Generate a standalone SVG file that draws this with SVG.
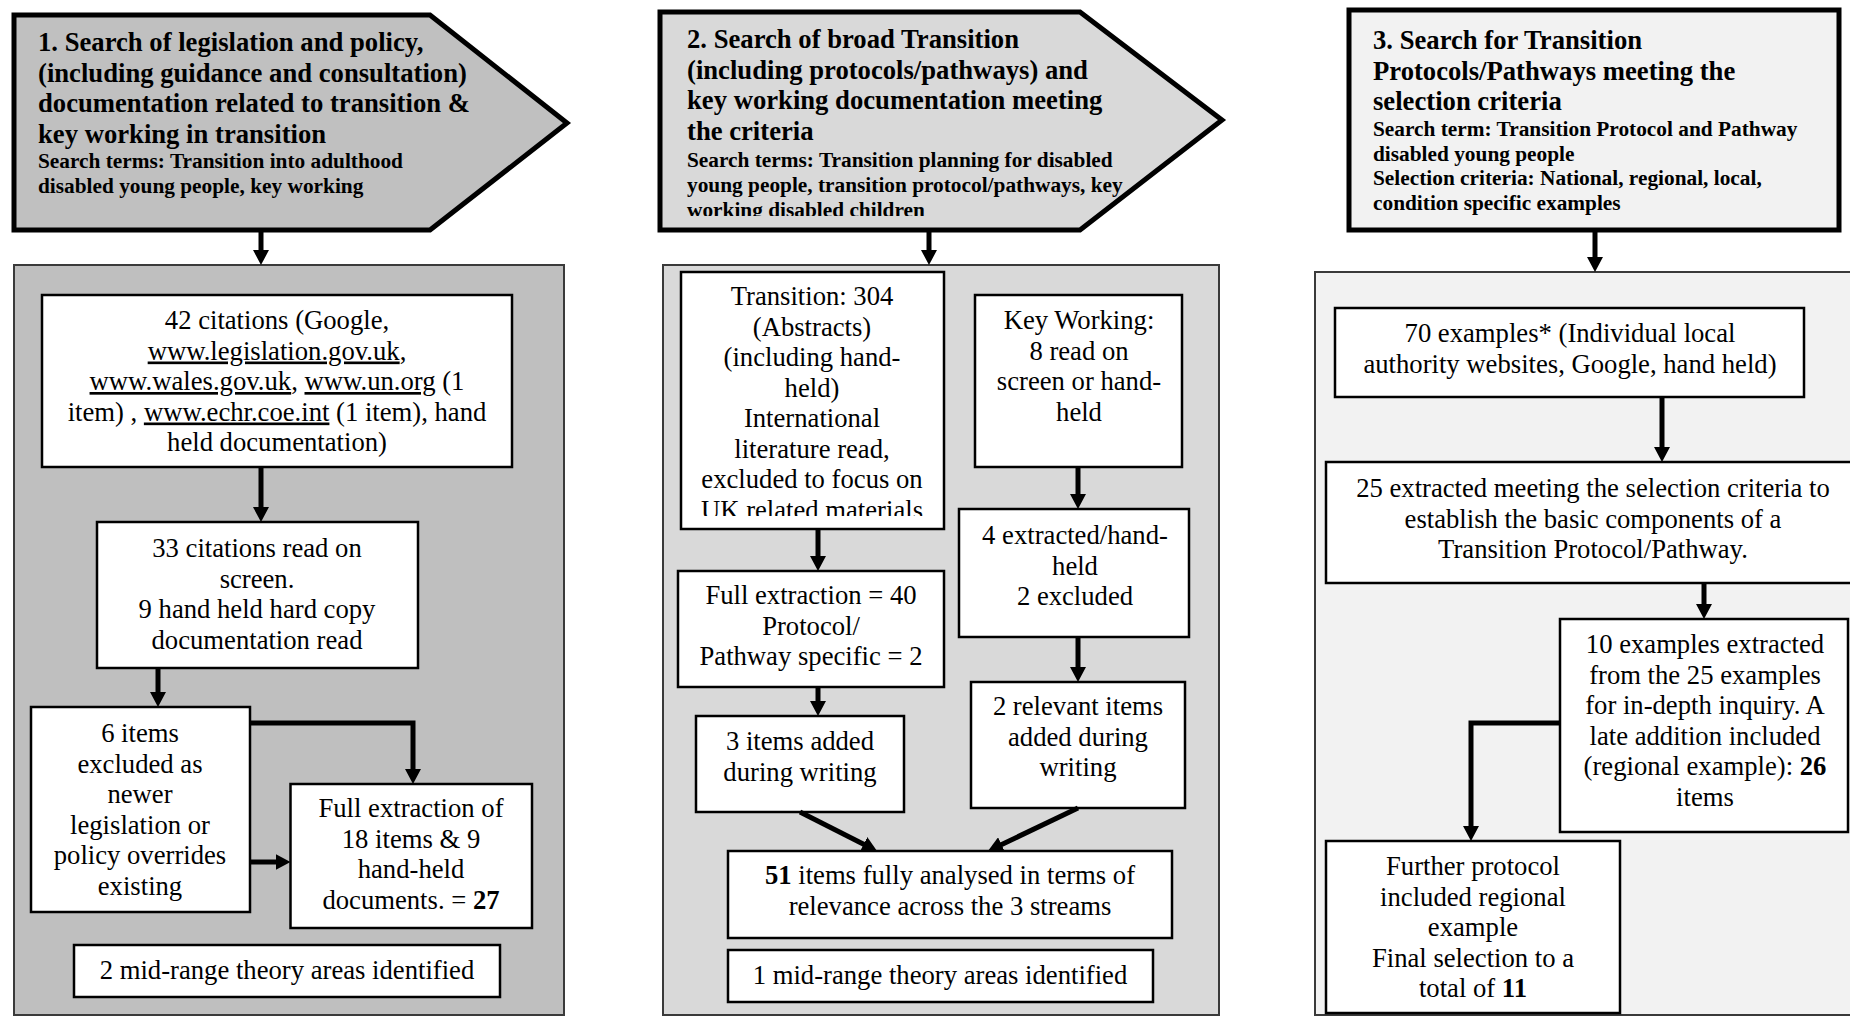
<svg xmlns="http://www.w3.org/2000/svg" width="1850" height="1016" viewBox="0 0 1850 1016">
  <defs>
    <style>
      text { font-family: "Liberation Serif", "Times New Roman", serif; fill: #000; }
      .title { font-size: 26.67px; font-weight: bold; }
      .terms { font-size: 21.33px; font-weight: bold; }
      .body { font-size: 26.67px; text-anchor: middle; }
      .b { font-weight: bold; }
      .u { text-decoration: underline; }
      .head { stroke: #000; stroke-width: 5; stroke-linejoin: miter; }
      .panel { stroke: #3a3a3a; stroke-width: 2; }
      .box { fill: #fff; stroke: #000; stroke-width: 2.5; }
      .conn { fill: none; stroke: #000; stroke-width: 5; marker-end: url(#arrow); }
    </style>
    <marker id="arrow" markerUnits="userSpaceOnUse" markerWidth="16" markerHeight="16" refX="5" refY="8" orient="auto">
      <path d="M0,0 L15,8 L0,16 Z" fill="#000"/>
    </marker>
    <clipPath id="clipHead2"><rect x="660" y="10" width="560" height="206"/></clipPath>
    <clipPath id="clipB1"><rect x="681" y="272" width="263" height="244"/></clipPath>
  </defs>

  <!-- stream panels -->
  <g id="panel-1"><rect class="panel" x="14" y="265" width="550" height="750" fill="#bfbfbf"/></g>
  <g id="panel-2"><rect class="panel" x="663" y="265" width="556" height="750" fill="#d9d9d9"/></g>
  <g id="panel-3"><rect class="panel" x="1315" y="272" width="560" height="743" fill="#f2f2f2"/></g>

  <!-- stream headers -->
  <g id="header-1">
    <polygon class="head" points="14,15 430,15 567,123 430,230 14,230" fill="#c0c0c0"/>
    <text class="title" x="38" y="51">1.  Search of legislation and policy,</text>
    <text class="title" x="38" y="81.5">(including guidance and consultation)</text>
    <text class="title" x="38" y="112">documentation related to transition &amp;</text>
    <text class="title" x="38" y="142.5">key working in transition</text>
    <text class="terms" x="38" y="168">Search terms: Transition into adulthood</text>
    <text class="terms" x="38" y="193">disabled young people, key working</text>
  </g>

  <g id="header-2">
    <polygon class="head" points="660,12 1080,12 1222,120 1080,230 660,230" fill="#d9d9d9"/>
    <text class="title" x="687" y="48">2. Search of broad Transition</text>
    <text class="title" x="687" y="78.5">(including protocols/pathways) and</text>
    <text class="title" x="687" y="109">key working documentation meeting</text>
    <text class="title" x="687" y="139.5">the criteria</text>
    <g clip-path="url(#clipHead2)">
      <text class="terms" x="687" y="167">Search terms: Transition planning for disabled</text>
      <text class="terms" x="687" y="192">young people, transition protocol/pathways, key</text>
      <text class="terms" x="687" y="217">working disabled children</text>
    </g>
  </g>

  <g id="header-3">
    <rect class="head" x="1349" y="10" width="490" height="220" fill="#f2f2f2"/>
    <text class="title" x="1373" y="49">3.  Search for Transition</text>
    <text class="title" x="1373" y="79.5">Protocols/Pathways meeting the</text>
    <text class="title" x="1373" y="110">selection criteria</text>
    <text class="terms" x="1373" y="136">Search term: Transition Protocol and Pathway</text>
    <text class="terms" x="1373" y="160.5">disabled young people</text>
    <text class="terms" x="1373" y="185">Selection criteria: National, regional, local,</text>
    <text class="terms" x="1373" y="209.5">condition specific examples</text>
  </g>

  <!-- stream 1 nodes -->
  <g id="a1-citations">
    <rect class="box" x="42" y="295" width="470" height="172"/>
    <text class="body" x="277" y="329">42 citations (Google,</text>
    <text class="body" x="277" y="359.5"><tspan class="u">www.legislation.gov.uk</tspan>,</text>
    <text class="body" x="277" y="390"><tspan class="u">www.wales.gov.uk</tspan>, <tspan class="u">www.un.org</tspan> (1</text>
    <text class="body" x="277" y="420.5">item) , <tspan class="u">www.echr.coe.int</tspan> (1 item), hand</text>
    <text class="body" x="277" y="451">held documentation)</text>
  </g>
  <g id="a2-read">
    <rect class="box" x="97" y="522" width="321" height="146"/>
    <text class="body" x="257" y="557">33 citations read on</text>
    <text class="body" x="257" y="587.5">screen.</text>
    <text class="body" x="257" y="618">9 hand held hard copy</text>
    <text class="body" x="257" y="648.5">documentation read</text>
  </g>
  <g id="a3-excluded">
    <rect class="box" x="31" y="707" width="219" height="205"/>
    <text class="body" x="140" y="742">6 items</text>
    <text class="body" x="140" y="772.5">excluded as</text>
    <text class="body" x="140" y="803">newer</text>
    <text class="body" x="140" y="833.5">legislation or</text>
    <text class="body" x="140" y="864">policy overrides</text>
    <text class="body" x="140" y="894.5">existing</text>
  </g>
  <g id="a4-extraction">
    <rect class="box" x="290.5" y="784" width="241.5" height="144"/>
    <text class="body" x="411" y="817">Full extraction of</text>
    <text class="body" x="411" y="847.5">18 items &amp; 9</text>
    <text class="body" x="411" y="878">hand-held</text>
    <text class="body" x="411" y="908.5">documents. = <tspan class="b">27</tspan></text>
  </g>
  <g id="a5-theory">
    <rect class="box" x="74" y="945" width="426" height="52"/>
    <text class="body" x="287" y="979">2 mid-range theory areas identified</text>
  </g>

  <!-- stream 2 nodes -->
  <g id="b1-transition">
    <rect class="box" x="681" y="272" width="263" height="257"/>
    <g clip-path="url(#clipB1)">
      <text class="body" x="812" y="305">Transition: 304</text>
      <text class="body" x="812" y="335.5">(Abstracts)</text>
      <text class="body" x="812" y="366">(including hand-</text>
      <text class="body" x="812" y="396.5">held)</text>
      <text class="body" x="812" y="427">International</text>
      <text class="body" x="812" y="457.5">literature read,</text>
      <text class="body" x="812" y="488">excluded to focus on</text>
      <text class="body" x="812" y="518.5">UK related materials</text>
    </g>
  </g>
  <g id="b2-key-working">
    <rect class="box" x="975" y="295" width="207" height="172"/>
    <text class="body" x="1079" y="329">Key Working:</text>
    <text class="body" x="1079" y="359.5">8 read on</text>
    <text class="body" x="1079" y="390">screen or hand-</text>
    <text class="body" x="1079" y="420.5">held</text>
  </g>
  <g id="b3-extracted">
    <rect class="box" x="959" y="509" width="230" height="128"/>
    <text class="body" x="1075" y="544">4 extracted/hand-</text>
    <text class="body" x="1075" y="574.5">held</text>
    <text class="body" x="1075" y="605">2 excluded</text>
  </g>
  <g id="b4-full-extraction">
    <rect class="box" x="678" y="571" width="266" height="116"/>
    <text class="body" x="811" y="604">Full extraction = 40</text>
    <text class="body" x="811" y="634.5">Protocol/</text>
    <text class="body" x="811" y="665">Pathway specific = 2</text>
  </g>
  <g id="b5-relevant">
    <rect class="box" x="971" y="682" width="214" height="126"/>
    <text class="body" x="1078" y="715">2 relevant items</text>
    <text class="body" x="1078" y="745.5">added during</text>
    <text class="body" x="1078" y="776">writing</text>
  </g>
  <g id="b6-added">
    <rect class="box" x="696" y="716" width="208" height="96"/>
    <text class="body" x="800" y="750">3 items added</text>
    <text class="body" x="800" y="780.5">during writing</text>
  </g>
  <g id="b7-analysed">
    <rect class="box" x="728" y="851" width="444" height="87"/>
    <text class="body" x="950" y="884"><tspan class="b">51</tspan> items fully analysed in terms of</text>
    <text class="body" x="950" y="914.5">relevance across the 3 streams</text>
  </g>
  <g id="b8-theory">
    <rect class="box" x="728" y="950" width="425" height="52"/>
    <text class="body" x="940" y="984">1 mid-range theory areas identified</text>
  </g>

  <!-- stream 3 nodes -->
  <g id="c1-examples">
    <rect class="box" x="1335" y="308" width="469" height="89"/>
    <text class="body" x="1570" y="342">70 examples* (Individual local</text>
    <text class="body" x="1570" y="372.5">authority websites, Google, hand held)</text>
  </g>
  <g id="c2-selection">
    <rect class="box" x="1326" y="462" width="540" height="121"/>
    <text class="body" x="1593" y="497">25 extracted meeting the selection criteria to</text>
    <text class="body" x="1593" y="527.5">establish the basic components of a</text>
    <text class="body" x="1593" y="558">Transition Protocol/Pathway.</text>
  </g>
  <g id="c3-in-depth">
    <rect class="box" x="1560" y="619" width="288" height="213"/>
    <text class="body" x="1705" y="653">10 examples extracted</text>
    <text class="body" x="1705" y="683.5">from the 25 examples</text>
    <text class="body" x="1705" y="714">for in-depth inquiry. A</text>
    <text class="body" x="1705" y="744.5">late addition included</text>
    <text class="body" x="1705" y="775">(regional example): <tspan class="b">26</tspan></text>
    <text class="body" x="1705" y="805.5">items</text>
  </g>
  <g id="c4-final">
    <rect class="box" x="1326" y="841" width="294" height="172"/>
    <text class="body" x="1473" y="875">Further protocol</text>
    <text class="body" x="1473" y="905.5">included regional</text>
    <text class="body" x="1473" y="936">example</text>
    <text class="body" x="1473" y="966.5">Final selection to a</text>
    <text class="body" x="1473" y="997">total of <tspan class="b">11</tspan></text>
  </g>

  <!-- connectors -->
  <g id="connectors">
    <path class="conn" d="M261,230 V255"/>
    <path class="conn" d="M929,230 V255"/>
    <path class="conn" d="M1595,230 V262"/>
    <path class="conn" d="M261,467 V512"/>
    <path class="conn" d="M158,668 V697"/>
    <path class="conn" d="M250,723 H413 V774"/>
    <path class="conn" d="M250,862 H280.5"/>
    <path class="conn" d="M818,529 V561"/>
    <path class="conn" d="M1078,467 V499"/>
    <path class="conn" d="M1078,637 V672"/>
    <path class="conn" d="M818,687 V706"/>
    <path class="conn" d="M800,812 L868.1,846.5"/>
    <path class="conn" d="M1078,808 L997,846.7"/>
    <path class="conn" d="M1662,397 V452"/>
    <path class="conn" d="M1704,583 V609"/>
    <path class="conn" d="M1560,723 H1471 V831"/>
  </g>
</svg>
